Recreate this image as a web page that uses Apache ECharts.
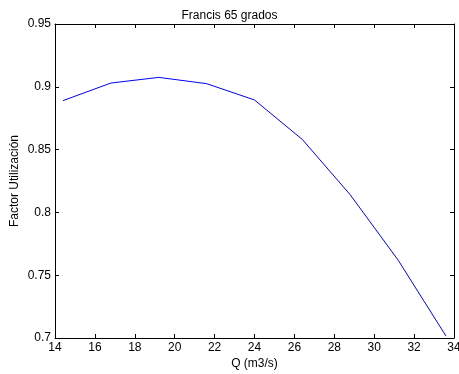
<!DOCTYPE html>
<html>
<head>
<meta charset="utf-8">
<script src="https://cdn.jsdelivr.net/npm/echarts@6/dist/echarts.min.js"></script>
<style>
  html, body { margin: 0; padding: 0; background: #fff; }
  #chart { width: 459px; height: 374px; }
</style>
</head>
<body>
<div id="chart"></div>
<script>
const caudal = [14.4, 16.8, 19.2, 21.6, 24.0, 26.4, 28.8, 31.2, 33.6];
const factorUtilizacion = [0.889, 0.903, 0.9075, 0.9025, 0.8895, 0.858, 0.814, 0.762, 0.7015];

const font = 'Liberation Sans, Arial, sans-serif';

const chart = echarts.init(document.getElementById('chart'), null, { renderer: 'canvas' });

const axisLine = { show: true, onZero: false, lineStyle: { color: '#000', width: 1 } };
const axisTick = { show: true, inside: true, length: 4, lineStyle: { color: '#000', width: 1 } };
const labelStyle = { color: '#000', fontSize: 12, fontFamily: font };

chart.setOption({
  animation: false,
  title: {
    text: 'Francis 65 grados',
    left: 'center',
    top: 5,
    textStyle: { color: '#000', fontSize: 12, fontWeight: 'normal', fontFamily: font }
  },
  grid: { left: 55, right: 5, top: 24, bottom: 36, outerBoundsMode: 'none', containLabel: false },
  xAxis: [
    {
      type: 'value', min: 14, max: 34, interval: 2,
      name: 'Q (m3/s)', nameLocation: 'middle', nameGap: 20, nameMoveOverlap: false,
      nameTextStyle: labelStyle,
      axisLine, axisTick,
      axisLabel: { ...labelStyle, margin: 4 },
      splitLine: { show: false }
    },
    {
      type: 'value', min: 14, max: 34, interval: 2, position: 'top',
      axisLine, axisTick, axisLabel: { show: false }, splitLine: { show: false }
    }
  ],
  yAxis: [
    {
      type: 'value', min: 0.7, max: 0.95, interval: 0.05,
      name: 'Factor Utilización', nameLocation: 'middle', nameGap: 34, nameMoveOverlap: false,
      nameTextStyle: labelStyle,
      axisLine, axisTick,
      axisLabel: { ...labelStyle, margin: 4, formatter: v => String(Number(v.toFixed(2))) },
      splitLine: { show: false }
    },
    {
      type: 'value', min: 0.7, max: 0.95, interval: 0.05, position: 'right',
      axisLine, axisTick, axisLabel: { show: false }, splitLine: { show: false }
    }
  ],
  series: [
    {
      type: 'line',
      data: caudal.map((q, i) => [q, factorUtilizacion[i]]),
      showSymbol: false,
      lineStyle: { color: '#0000ff', width: 1 },
      itemStyle: { color: '#0000ff' }
    }
  ]
});
</script>
</body>
</html>
